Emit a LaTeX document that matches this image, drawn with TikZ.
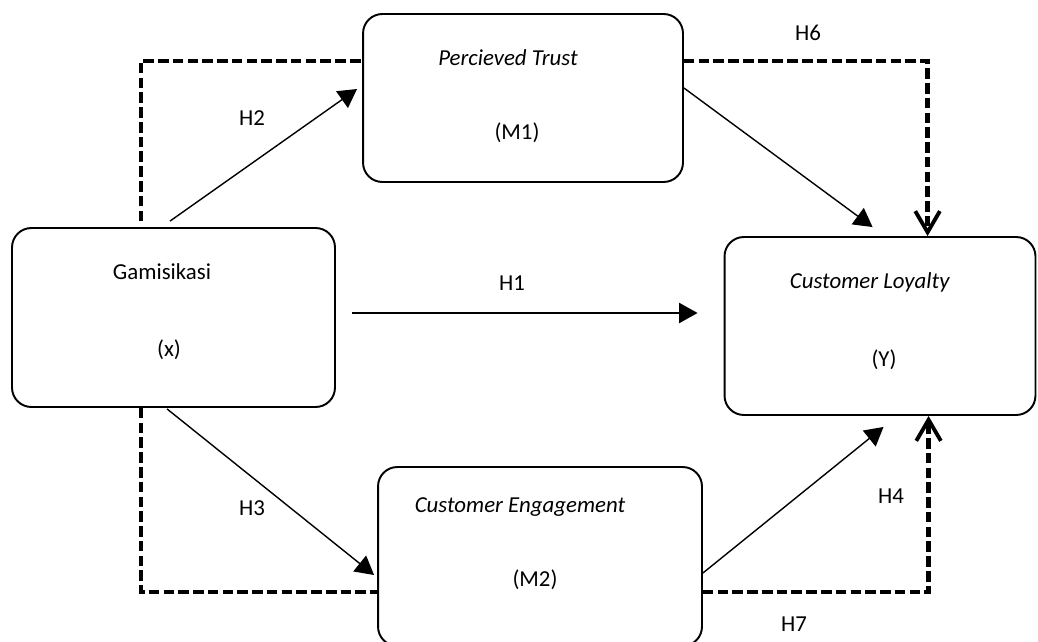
\documentclass[tikz,border=0pt]{standalone}
\usepackage{fontspec}
\setmainfont{Carlito}
\usetikzlibrary{arrows.meta,calc}

\begin{document}
\begin{tikzpicture}[x=0.02cm,y=-0.02cm,
	box/.style={draw,line width=1.1pt,rounded corners=11pt,inner sep=0pt},
	txt/.style={font=\fontsize{13}{15}\selectfont,inner sep=0pt},
	arr/.style={line width=0.8pt,-{Triangle[length=10.5pt,width=11.5pt]}},
	hyp/.style={line width=2.6pt,dash pattern=on 6pt off 2.4pt},
	hypend/.style={hyp,-{Straight Barb[length=12pt,width=14pt,line width=2.2pt]}}]
			\useasboundingbox (0,0) rectangle (1038,642);

			% boxes
			\node[box,minimum width=6.46cm,minimum height=3.58cm] (gam) at (173.5,317.5) {};
			\node[box,minimum width=6.40cm,minimum height=3.36cm] (pt) at (523,98) {};
			\node[box,minimum width=6.22cm,minimum height=3.56cm] (cl) at (880,326) {};
			\node[box,minimum width=6.48cm,minimum height=3.58cm] (ce) at (540,556.5) {};

			\node[txt] (gamname) at (162,272) {Gamisikasi};
			\node[txt] (gamvar) at (169,350) {(x)};
			\node[txt] (ptname) at (508,58) {\textit{Percieved Trust}};
			\node[txt] (ptvar) at (517,133) {(M1)};
			\node[txt] (clname) at (870,282) {\textit{Customer Loyalty}};
			\node[txt] (clvar) at (884,360) {(Y)};
			\node[txt] (cename) at (520,507) {\textit{Customer Engagement}};
			\node[txt] (cevar) at (535,580) {(M2)};

			% direct paths
			\draw[arr] ($(gam.north west)+(159,-6)$) -- ($(pt.west)+(-5,-9)$);
			\draw[arr] ($(pt.east)+(0,-10)$) -- ($(cl.north west)+(149,-9)$);
			\draw[arr] ($(gam.east)+(16,-4.5)$) -- ($(cl.west)+(-26,-13)$);
			\draw[arr] ($(gam.south west)+(156,1)$) -- ($(ce.west)+(-3,18.5)$);
			\draw[arr] ($(ce.east)+(0,16.5)$) -- ($(cl.south west)+(160,11)$);

			% mediation paths
			\draw[hyp] ($(gam.north west)+(130,-6)$) |- ($(pt.west)+(0,-37)$);
			\draw[hypend] ($(pt.east)+(0,-37)$) -| ($(cl.north west)+(204,0)$);
			\draw[hyp] ($(gam.south west)+(130,0)$) |- ($(ce.west)+(0,35.5)$);
			\draw[hypend] ($(ce.east)+(0,35.5)$) -| ($(cl.south west)+(205,0)$);

			\node[txt] (h1) at (512,283) {H1};
			\node[txt] (h2) at (252,118) {H2};
			\node[txt] (h3) at (252,508) {H3};
			\node[txt] (h4) at (891,496) {H4};
			\node[txt] (h6) at (808,33) {H6};
			\node[txt] (h7) at (794,624) {H7};
		\end{tikzpicture}
\end{document}
